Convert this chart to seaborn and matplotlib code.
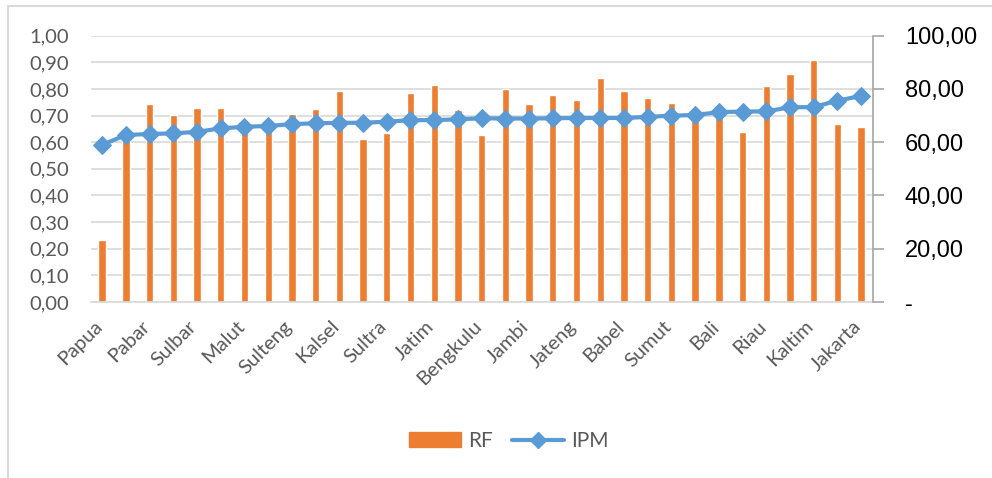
import numpy as np
import pandas as pd
import matplotlib
matplotlib.use("Agg")
import matplotlib.pyplot as plt
import seaborn as sns
from matplotlib.lines import Line2D
from matplotlib.patches import Patch
from matplotlib.ticker import FuncFormatter, FixedLocator, FixedFormatter
from matplotlib.transforms import ScaledTranslation

# data -------------------------------------------------------------------
provinsi = ["Papua", "NTT", "Pabar", "NTB", "Sulbar", "Kalbar", "Malut",
            "Gorontalo", "Sulteng", "Lampung", "Kalsel", "Aceh", "Sultra",
            "Sulsel", "Jatim", "Kalteng", "Bengkulu", "Jabar", "Jambi",
            "Sumsel", "Jateng", "Banten", "Babel", "Sumbar", "Sumut",
            "Sulut", "Bali", "Kepri", "Riau", "Yogya", "Kaltim", "Maluku",
            "Jakarta"]
rf = [0.233, 0.625, 0.744, 0.701, 0.727, 0.727, 0.683, 0.665, 0.706, 0.725,
      0.792, 0.612, 0.633, 0.784, 0.814, 0.721, 0.627, 0.799, 0.744, 0.776,
      0.759, 0.840, 0.791, 0.765, 0.746, 0.700, 0.715, 0.640, 0.810, 0.857,
      0.910, 0.670, 0.657]
ipm = [59.0, 62.7, 63.1, 63.3, 63.9, 65.2, 65.8, 66.1, 66.8, 67.1,
       67.3, 67.3, 67.7, 68.3, 68.3, 68.6, 69.0, 68.9, 68.9, 69.0,
       69.1, 69.1, 69.1, 69.5, 70.0, 70.2, 71.3, 71.5, 71.6, 73.1,
       73.2, 75.6, 77.4]

df = pd.DataFrame({"prov": provinsi, "RF": rf, "IPM": ipm, "pos": np.arange(len(provinsi))})

orange = "#ED7D31"
blue = "#5B9BD5"
grey_txt = "#595959"
grid_c = "#D9D9D9"

sns.set_style("white")
plt.rcParams["font.family"] = ["Lato", "DejaVu Sans"]

fig = plt.figure(figsize=(9.92, 4.78), dpi=100)
W, H = 992, 478
ax = fig.add_axes([91 / W, (H - 302) / H, (873 - 91) / W, (302 - 35.7) / H])

# bars (left axis)
sns.barplot(data=df, x="pos", y="RF", color=orange, width=0.31, ax=ax,
            saturation=1, zorder=2, native_scale=True)
ax.set_ylim(0, 1)
ax.set_yticks(np.arange(0, 1.01, 0.1))
ax.yaxis.set_major_formatter(FuncFormatter(lambda v, p: f"{v:.2f}".replace(".", ",")))
ax.grid(axis="y", color=grid_c, lw=1.2, zorder=0)
ax.set_axisbelow(True)
ax.tick_params(axis="y", length=0, labelsize=14.5, labelcolor=grey_txt, pad=16)
ax.set_xlabel("")
ax.set_ylabel("")
for s in ["left", "top", "right"]:
    ax.spines[s].set_visible(False)
ax.spines["bottom"].set_color(grid_c)
ax.spines["bottom"].set_linewidth(1.2)

# line (right axis)
ax2 = ax.twinx()
sns.lineplot(data=df, x="pos", y="IPM", color=blue, lw=3, marker="D",
             markersize=9, markeredgecolor=blue, ax=ax2, zorder=3)
ax2.set_ylim(0, 100)
ax2.set_yticks(np.arange(0, 101, 20))
ax2.yaxis.set_major_formatter(FuncFormatter(
    lambda v, p: "-" if v == 0 else f"{v:.2f}".replace(".", ",")))
ax2.tick_params(axis="y", direction="out", length=8, width=1.2, color="#A6A6A6",
                labelsize=17, labelcolor="black", pad=15)
for t in ax2.get_yticklabels():
    t.set_fontfamily(["Liberation Sans", "DejaVu Sans"])
ax2.set_ylabel("")
ax2.set_xlabel("")
for s in ["left", "top", "bottom"]:
    ax2.spines[s].set_visible(False)
ax2.spines["right"].set_color("#A6A6A6")
ax2.spines["right"].set_linewidth(1.2)

# x axis: every second province, 45 degrees
ax.set_xlim(-0.47, len(provinsi) - 0.5)
ax.xaxis.set_major_locator(FixedLocator(list(range(0, len(provinsi), 2))))
ax.xaxis.set_major_formatter(FixedFormatter(provinsi[::2]))
ax.tick_params(axis="x", length=0, labelsize=14.5, labelcolor=grey_txt, pad=4)
fig.canvas.draw()
shift = ScaledTranslation(-9 / 100, -10 / 100, fig.dpi_scale_trans)
for t in ax.get_xticklabels():
    t.set_rotation(45)
    t.set_ha("right")
    t.set_rotation_mode("anchor")
    t.set_transform(t.get_transform() + shift)

# legend
handles = [Patch(color=orange, label="RF"),
           Line2D([0], [0], color=blue, lw=3, marker="D", markersize=8, label="IPM")]
fig.legend(handles=handles, loc="center", bbox_to_anchor=(509 / W, 1 - 441 / H),
           ncol=2, frameon=False, fontsize=15, labelcolor=grey_txt,
           handlelength=2.5, handleheight=0.7, columnspacing=0.9,
           handletextpad=0.35)

# chart border (left and top edge visible)
fig.add_artist(Line2D([8 / W, 8 / W], [0, 1 - 6 / H], color=grid_c, lw=1.5))
fig.add_artist(Line2D([8 / W, 1], [1 - 6 / H, 1 - 6 / H], color=grid_c, lw=1.5))

fig.savefig("out.png", dpi=100)
